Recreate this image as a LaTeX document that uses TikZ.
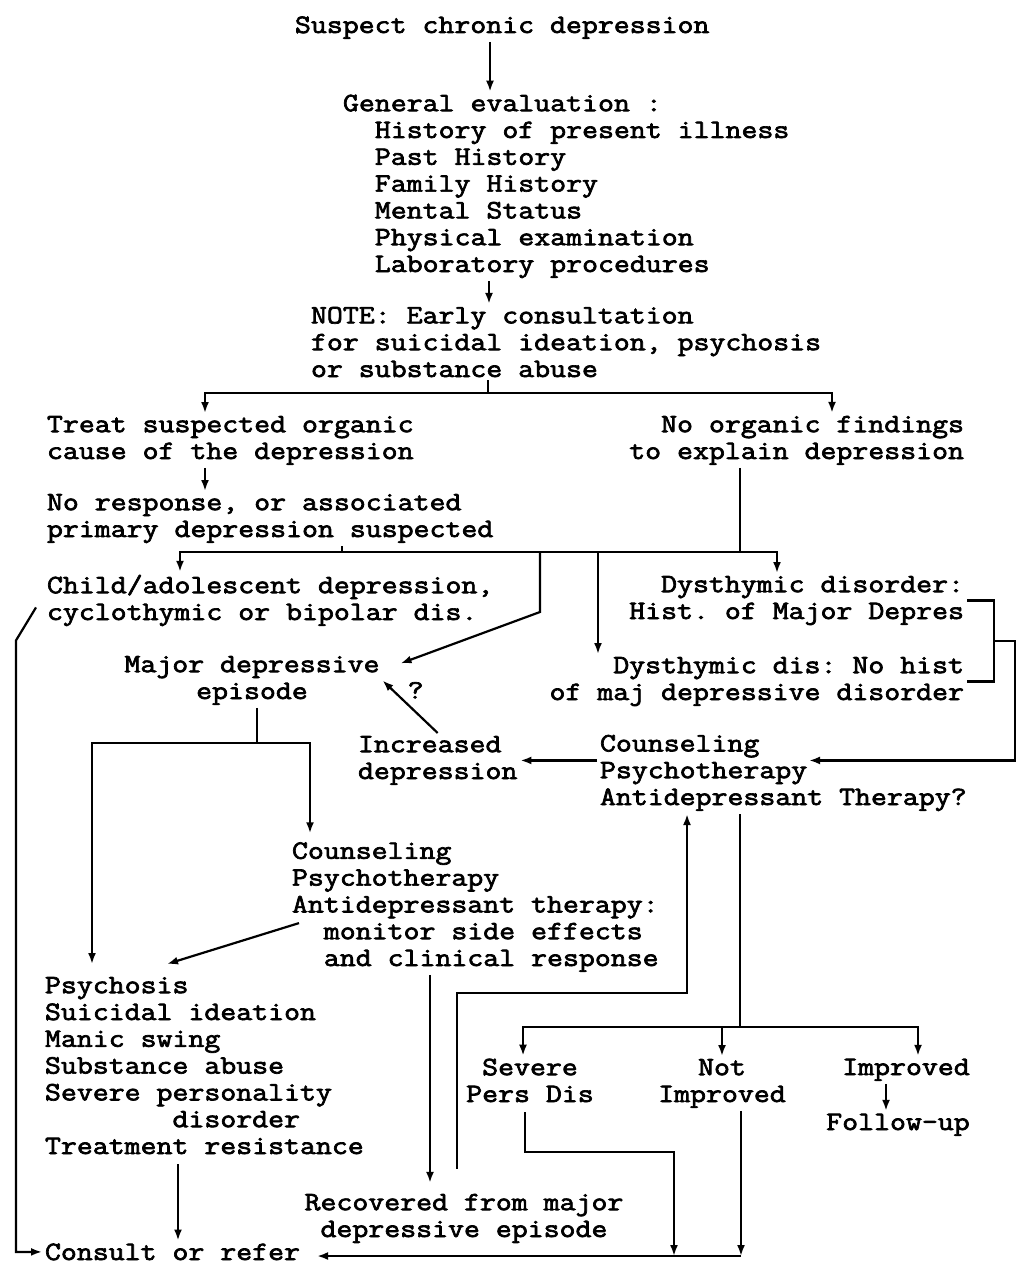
\documentclass[tikz,border=0pt]{standalone}
\usepackage{fontspec}
\newfontfamily\twfont{Latin Modern Mono}[FakeStretch=1.168,FakeBold=2.6]
\frenchspacing
\usetikzlibrary{arrows.meta,calc}

\begin{document}
\begin{tikzpicture}[x=1pt,y=-1pt,line width=2.2pt,
  txt/.style={font=\twfont\fontsize{26.5}{26.8}\selectfont, inner sep=0pt, outer sep=3pt},
  arr/.style={-{Latex[length=11pt,width=8pt]}}]

  \useasboundingbox (0,0) rectangle (1021,1265);

  \node[txt, anchor=base west] (susp) at (292,33) {Suspect chronic depression};
  \node[txt, anchor=base west, align=left] (geneval) at (340,272)
    {General evaluation :\\
     \phantom{Ge}History of present illness\\
     \phantom{Ge}Past History\\
     \phantom{Ge}Family History\\
     \phantom{Ge}Mental Status\\
     \phantom{Ge}Physical examination\\
     \phantom{Ge}Laboratory procedures};
  \node[txt, anchor=base west, align=left] (note) at (308,377)
    {NOTE: Early consultation\\for suicidal ideation, psychosis\\or substance abuse};

  \node[txt, anchor=base west, align=left] (treat) at (44,459)
    {Treat suspected organic\\cause of the depression};
  \node[txt, anchor=base east, align=right] (noorg) at (967,459)
    {No organic findings\\to explain depression};
  \node[txt, anchor=base west, align=left] (noresp) at (44,537)
    {No response, or associated\\primary depression suspected};
  \node[txt, anchor=base west, align=left] (child) at (44,620)
    {Child/adolescent depression,\\cyclothymic or bipolar dis.};
  \node[txt, anchor=base east, align=right] (dysA) at (967,619)
    {Dysthymic disorder:\\Hist. of Major Depres};
  \node[txt, anchor=base east, align=right] (dysB) at (967,700)
    {Dysthymic dis: No hist\\of maj depressive disorder};
  \node[txt, anchor=base, align=center] (major) at (252,699)
    {Major depressive\\episode};
  \node[txt, anchor=base west, align=left] (incr) at (355,779)
    {Increased\\depression};
  \node[txt, anchor=base west, align=left] (couns1) at (597,805)
    {Counseling\\Psychotherapy\\Antidepressant Therapy?};
  \node[txt, anchor=base west, align=left] (couns2) at (289,966)
    {Counseling\\Psychotherapy\\Antidepressant therapy:\\
     \phantom{An}monitor side effects\\
     \phantom{An}and clinical response};
  \node[txt, anchor=base west, align=left] (psych) at (42,1154)
    {Psychosis\\Suicidal ideation\\Manic swing\\Substance abuse\\Severe personality\\
     \phantom{Severe p}disorder\\Treatment resistance};
  \node[txt, anchor=base, align=center] (severe) at (530,1102) {Severe\\Pers Dis};
  \node[txt, anchor=base, align=center] (notimp) at (722,1102) {Not\\Improved};
  \node[txt, anchor=base] (improved) at (906,1075) {Improved};
  \node[txt, anchor=base] (follow) at (898,1130) {Follow-up};
  \node[txt, anchor=base, align=center] (recov) at (464,1237)
    {Recovered from major\\depressive episode};
  \node[txt, anchor=base west] (consult) at (42,1260) {Consult or refer};

  \coordinate (s1) at (488,393);
  \coordinate (s2) at (342,552);
  \coordinate (s3) at (740,552);
  \coordinate (s4) at (257,743);
  \coordinate (s5) at (740,1027);
  \coordinate (s6) at (457,993);
  \coordinate (k2) at (525,1152);
  \coordinate (b2) at (674,1256);
  \coordinate (b3) at (741,1256);

  \draw[arr] (susp.south -| 490,0) -- (geneval.north -| 490,0);
  \draw[arr] (geneval.south -| 489,0) -- (note.north -| 489,0);
  \draw (note.south -| s1) -- (s1);
  \draw[arr] (s1) -| (treat.north -| 205,0);
  \draw[arr] (s1) -| (noorg.north -| 832,0);
  \draw[arr] (treat.south -| 205,0) -- (noresp.north -| 205,0);

  \draw (noresp.south -| s2) -- (s2);
  \draw (noorg.south -| s3) -- (s3);
  \draw (s2) -- (s3);
  \draw[arr] (s2) -| (child.north -| 180,0);
  \draw[arr] (s3) -| (dysA.north -| 777,0);
  \draw[arr] (s2 -| 540,0) -- ++(0,60) -- ([xshift=18pt,yshift=17pt]major.east);
  \draw[arr] (s2 -| 598,0) -- (dysB.north -| 598,0);
  \draw[arr] ([xshift=-8pt,yshift=-7pt]child.west) -- ++(-20,33) |- (consult.west);

  \draw (major.south -| s4) -- (s4);
  \draw[arr, shorten >=6pt] (s4) -| (couns2.north -| 310,0);
  \draw[arr, shorten >=10pt] (s4) -| (psych.north -| 92,0);
  \draw[arr] (incr.north) -- node[txt, pos=0.6, anchor=south west] (qm) {?} (major.east);
  \draw[arr] (couns1.west |- incr.east) -- (incr.east);

  \draw (dysA.east) -- ++(27,0) |- (dysB.east) coordinate[pos=0.25] (bm);
  \draw[arr] (bm) -- ++(21,0) |- ($(couns1.west |- incr.east)+(212,0)$);

  \draw (couns1.south -| s5) -- (s5);
  \draw[arr] (s5) -| ([xshift=-7pt]severe.north);
  \draw[arr] (s5) -| (notimp.north);
  \draw[arr] (s5) -| ([xshift=12pt]improved.north);
  \draw[arr] (improved.south -| 886,0) -- (follow.north -| 886,0);

  \draw[arr] ([xshift=10pt,yshift=-16pt]couns2.west) -- ([xshift=125pt,yshift=10pt]psych.north west);
  \draw[arr, shorten >=8pt] (couns2.south -| 430,0) -- (recov.north -| 430,0);
  \draw[arr, shorten <=22pt] (recov.north -| s6) -- (s6) -| (couns1.south -| 687,0);

  \draw[arr, shorten <=7pt] (severe.south -| k2) -- (k2) -| (b2);
  \draw[arr] (notimp.south -| b3) -- (b3);
  \draw[arr, shorten >=14pt] (b3) -- (consult.east |- b3);
  \draw[arr, shorten <=7pt] (psych.south -| 178,0) -- (consult.north -| 178,0);
\end{tikzpicture}
\end{document}
